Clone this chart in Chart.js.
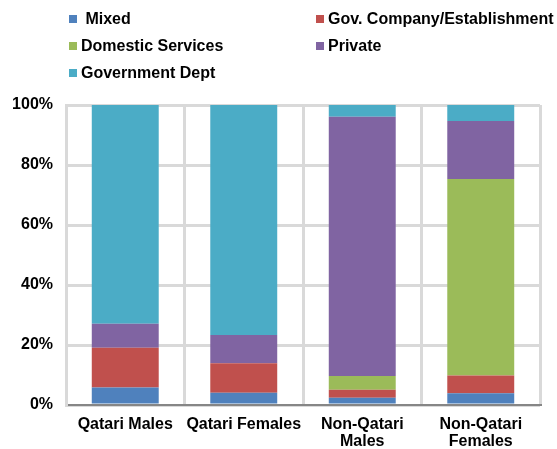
<!DOCTYPE html>
<html>
<head>
<meta charset="utf-8">
<script src="https://cdn.jsdelivr.net/npm/chart.js@4/dist/chart.umd.min.js"></script>
<style>
  body { margin: 0; background: #fff; }
  #wrap { position: relative; width: 557px; height: 449px; }
  #legend { position: absolute; left: 0; top: 0; width: 557px; height: 90px;
    font: bold 16px "Liberation Sans", Arial, sans-serif; color: #000; }
  .item { position: absolute; display: flex; align-items: center; white-space: pre; }
  .box { width: 8px; height: 8px; margin-right: 4px; }
</style>
</head>
<body>
<div id="wrap">
  <canvas id="chart" width="557" height="449"></canvas>
  <div id="legend"></div>
</div>
<script>
const categories = [["Qatari Males"], ["Qatari Females"], ["Non-Qatari", "Males"], ["Non-Qatari", "Females"]];
const seriesNames = [" Mixed", "Gov. Company/Establishment", "Domestic Services", "Private", "Government Dept"];
const seriesColors = ["#4F81BD", "#C0504D", "#9BBB59", "#8064A2", "#4BACC6"];

const mixed = [5.8, 4.1, 2.4, 3.9];
const govCompany = [13.3, 9.8, 2.7, 5.9];
const domestic = [0, 0, 4.6, 65.5];
const privateSector = [8.0, 9.4, 86.4, 19.4];
const govDept = [72.9, 76.7, 3.9, 5.3];

const yTicks = [0, 20, 40, 60, 80, 100];

const seriesValues = [mixed, govCompany, domestic, privateSector, govDept];

// legend: two columns, three rows
const legendPos = [[69, 19], [316, 19], [69, 46], [316, 46], [69, 73]];
const legend = document.getElementById("legend");
seriesNames.forEach((name, i) => {
  const it = document.createElement("div");
  it.className = "item";
  it.style.left = legendPos[i][0] + "px";
  it.style.top = (legendPos[i][1] - 10) + "px";
  it.style.height = "20px";
  const b = document.createElement("span");
  b.className = "box";
  b.style.background = seriesColors[i];
  const t = document.createElement("span");
  t.textContent = name;
  it.appendChild(b);
  it.appendChild(t);
  legend.appendChild(it);
});

const gridColor = "#d9d9d9";

new Chart(document.getElementById("chart"), {
  type: "bar",
  data: {
    labels: categories,
    datasets: seriesNames.map((name, i) => ({
      label: name.trim(),
      data: seriesValues[i],
      backgroundColor: seriesColors[i],
      barPercentage: 0.565,
      categoryPercentage: 1
    }))
  },
  options: {
    responsive: false,
    animation: false,
    layout: { padding: { top: 105, right: 17, left: 0, bottom: 0 } },
    plugins: { legend: { display: false }, tooltip: { enabled: false } },
    scales: {
      x: {
        stacked: true,
        grid: { color: gridColor, lineWidth: 3, offset: true, drawTicks: false },
        border: { color: "#868686", width: 2 },
        ticks: {
          color: "#000",
          padding: 11,
          font: { family: "Liberation Sans", size: 16, weight: "bold", lineHeight: 1.07 },
          maxRotation: 0,
          autoSkip: false
        },
        afterFit: s => { s.height = 44; }
      },
      y: {
        stacked: true,
        min: 0,
        max: 100,
        afterBuildTicks: s => { s.ticks = yTicks.map(v => ({ value: v })); },
        grid: { color: gridColor, lineWidth: 3, drawTicks: false },
        border: { color: gridColor, width: 3 },
        ticks: {
          color: "#000",
          padding: 13,
          font: { family: "Liberation Sans", size: 16, weight: "bold" },
          callback: v => v + "%"
        },
        afterFit: s => { s.width = 66; }
      }
    }
  }
});
</script>
</body>
</html>
